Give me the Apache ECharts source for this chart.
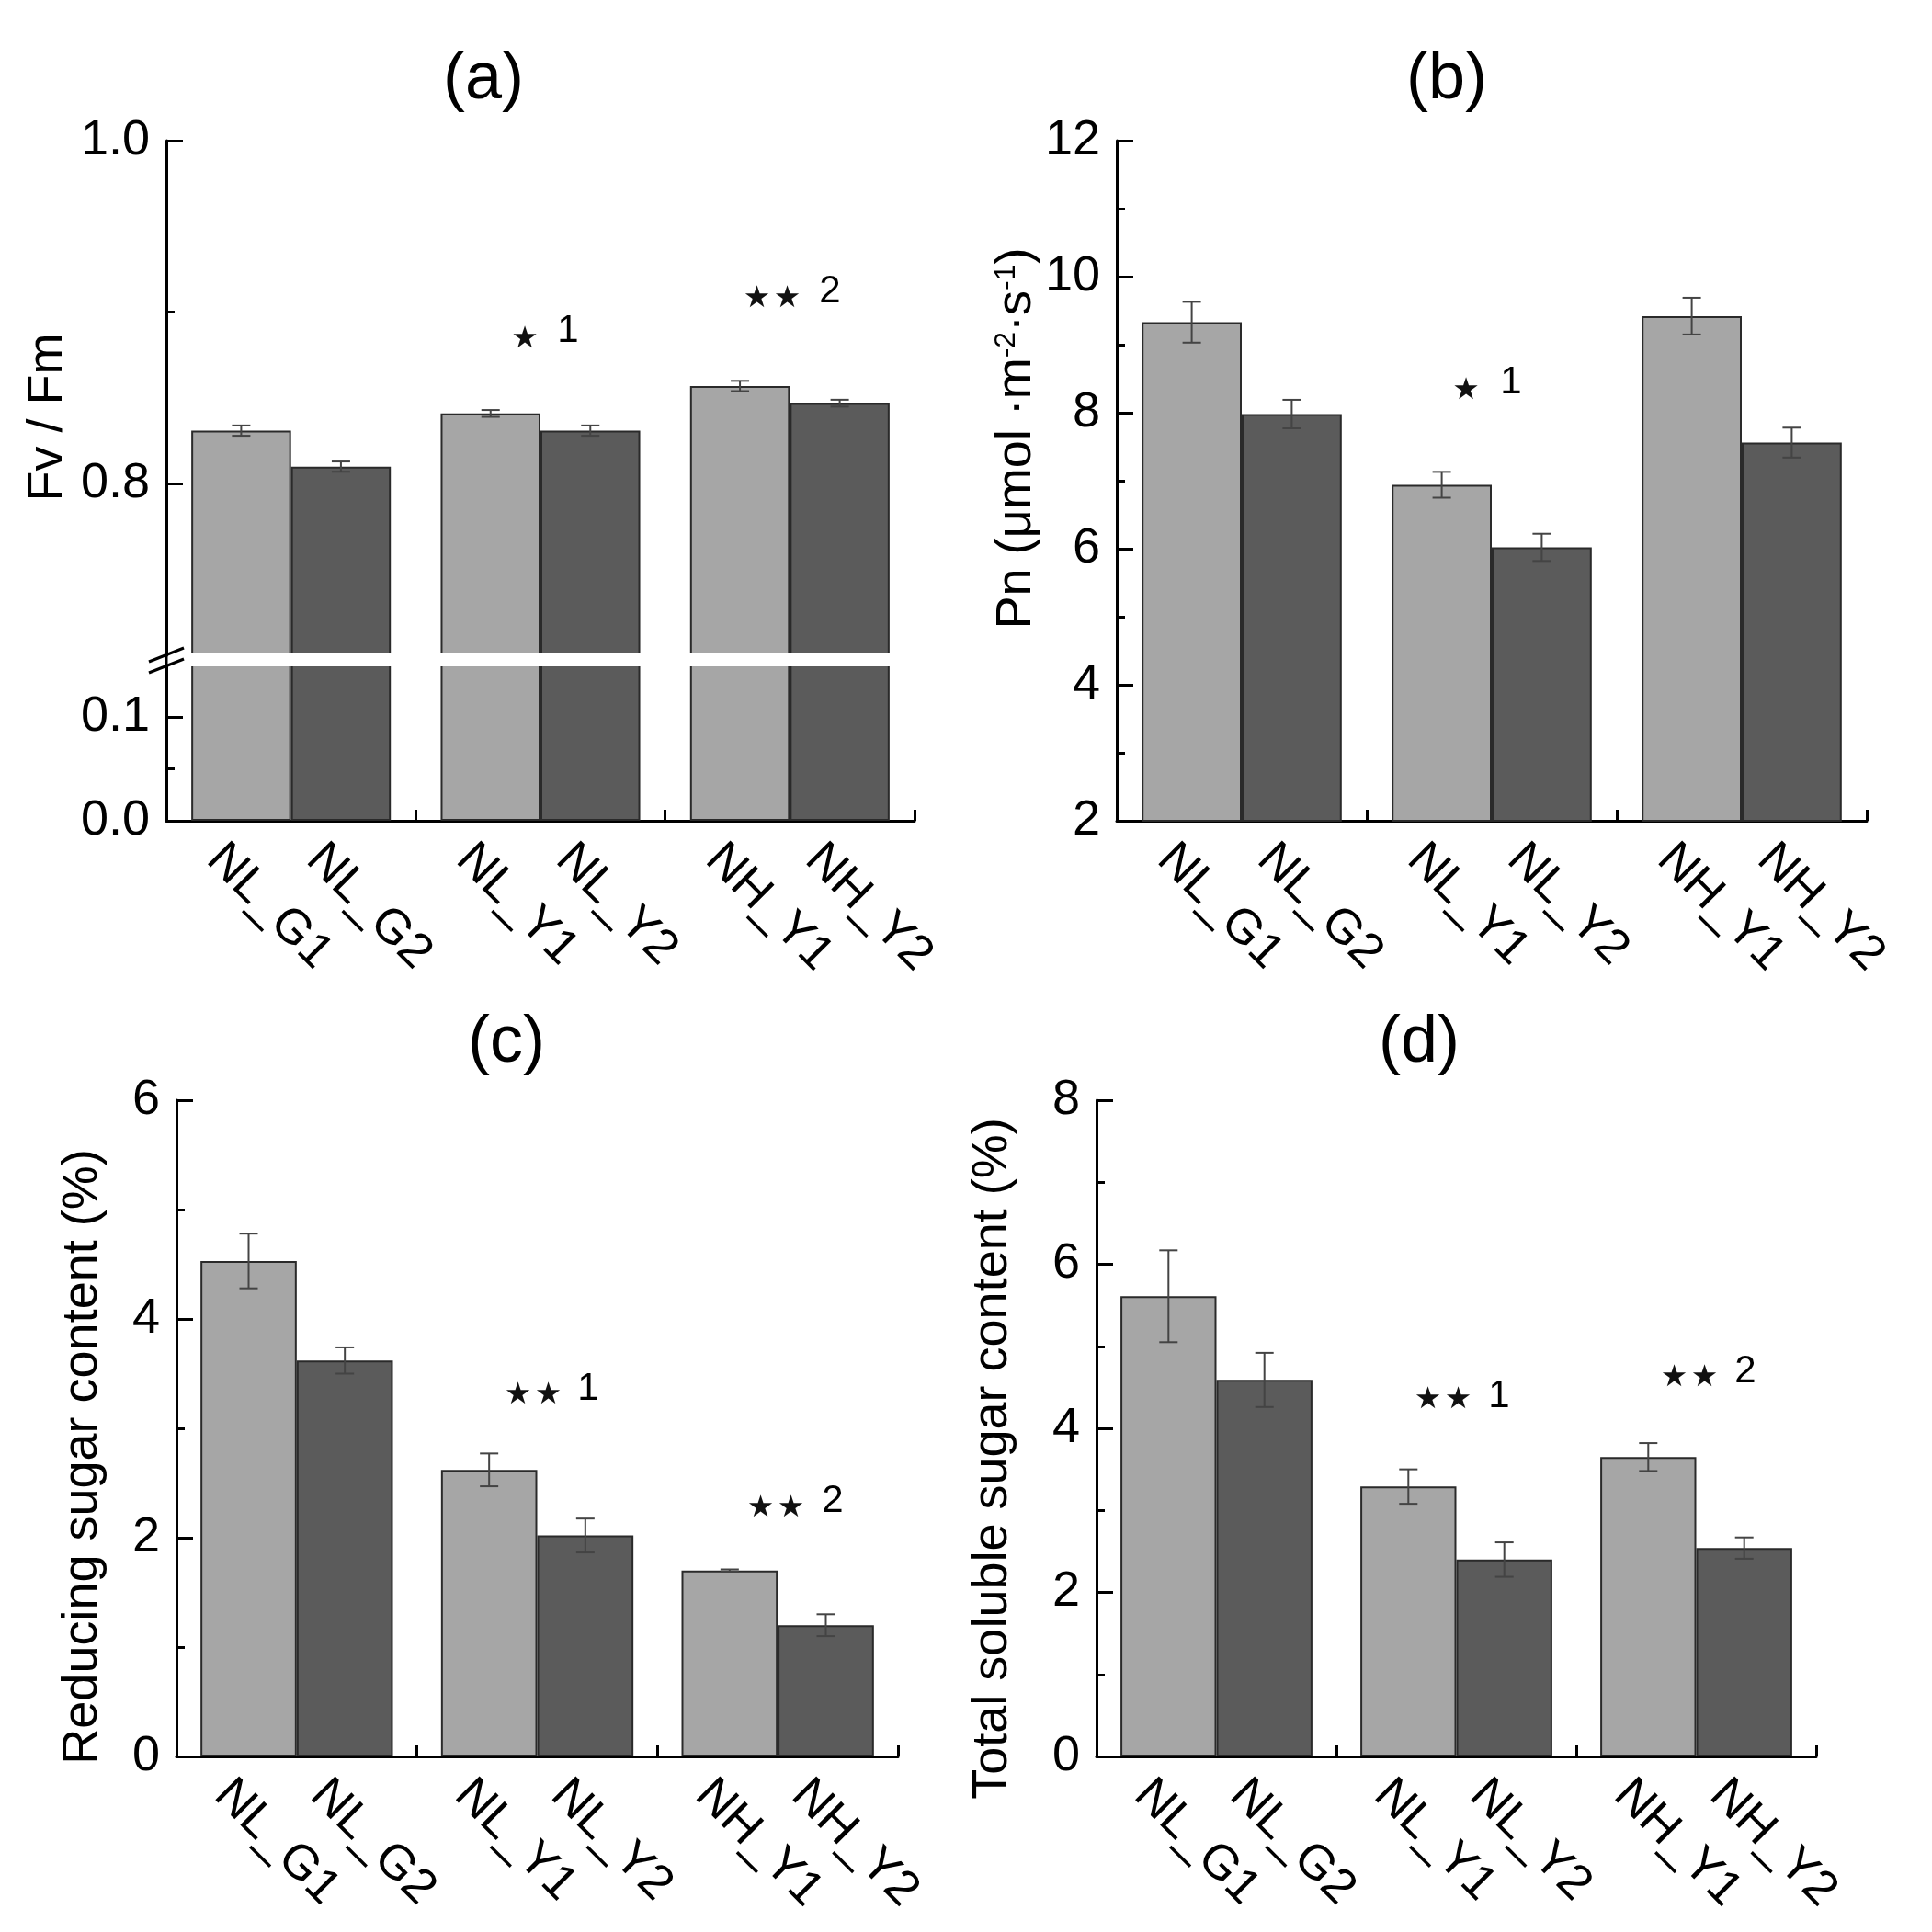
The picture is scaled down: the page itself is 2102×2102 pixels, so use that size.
<!DOCTYPE html>
<html>
<head>
<meta charset="utf-8">
<script src="https://cdn.jsdelivr.net/npm/echarts@6/dist/echarts.min.js"></script>
<style>
html,body{margin:0;padding:0;background:#fff;}
#main{width:2102px;height:2102px;}
</style>
</head>
<body>
<div id="main"></div>
<script>
// categories
var groups = ['NL_G', 'NL_Y', 'NH_Y'];
var names1 = ['NL_G1', 'NL_Y1', 'NH_Y1'];
var names2 = ['NL_G2', 'NL_Y2', 'NH_Y2'];

// (a) Fv/Fm
var fvfm1 = [0.831, 0.841, 0.857];
var fvfm1Err = [0.003, 0.002, 0.003];
var fvfm2 = [0.810, 0.831, 0.847];
var fvfm2Err = [0.003, 0.003, 0.002];
// (b) Pn
var pn1 = [9.33, 6.94, 9.42];
var pn1Err = [0.30, 0.19, 0.27];
var pn2 = [7.98, 6.02, 7.56];
var pn2Err = [0.21, 0.20, 0.22];
// (c) reducing sugar
var rs1 = [4.53, 2.62, 1.70];
var rs1Err = [0.25, 0.15, 0.01];
var rs2 = [3.62, 2.02, 1.20];
var rs2Err = [0.12, 0.155, 0.10];
// (d) total soluble sugar
var ts1 = [5.61, 3.29, 3.65];
var ts1Err = [0.56, 0.21, 0.17];
var ts2 = [4.59, 2.40, 2.54];
var ts2Err = [0.33, 0.21, 0.13];

// tick values of the broken axis in (a)
var aUpperTicks = [0.8, 1.0];
var aUpperMinor = [0.9];
var aLowerTicks = [0, 0.1];
var aLowerMinor = [0.05];

var FONT = '"Liberation Sans", Arial, sans-serif';
var chart = echarts.init(document.getElementById('main'));

function errData(v1, e1, v2, e2) {
    var d = [];
    for (var i = 0; i < v1.length; i++) {
        d.push([i, v1[i], e1[i], -1]);
        d.push([i, v2[i], e2[i], 1]);
    }
    return d;
}
function nameData(min) {
    var d = [];
    for (var i = 0; i < groups.length; i++) {
        d.push([i, min, -1]);
        d.push([i, min, 1]);
    }
    return d;
}
function renderErr(params, api) {
    var c = api.value(0), v = api.value(1), e = api.value(2), side = api.value(3);
    var band = api.size([1, 0])[0];
    var x = api.coord([c, v])[0] + side * band * 0.2;
    var y1 = api.coord([c, v + e])[1], y2 = api.coord([c, v - e])[1];
    var st = {stroke: '#444', lineWidth: 2};
    return {type: 'group', children: [
        {type: 'line', shape: {x1: x, y1: y1, x2: x, y2: y2}, style: st},
        {type: 'line', shape: {x1: x - 10, y1: y1, x2: x + 10, y2: y1}, style: st},
        {type: 'line', shape: {x1: x - 10, y1: y2, x2: x + 10, y2: y2}, style: st}
    ]};
}
function renderName(params, api) {
    var c = api.value(0), side = api.value(2);
    var band = api.size([1, 0])[0];
    var x = api.coord([c, api.value(1)])[0] + side * band * 0.2;
    var bottom = params.coordSys.y + params.coordSys.height;
    return {type: 'text', x: x - 29, y: bottom + 34, rotation: -Math.PI / 4,
        style: {text: side < 0 ? names1[c] : names2[c], fill: '#000', fontSize: 53,
            fontFamily: FONT, align: 'left', verticalAlign: 'middle'}};
}

var lineSt = {color: '#000', width: 3};
function catAxis(grid, show) {
    return {type: 'category', gridIndex: grid, data: groups, show: show, boundaryGap: true,
        axisLine: {show: true, onZero: false, lineStyle: lineSt},
        axisTick: {show: true, inside: true, interval: 0, alignWithLabel: false, length: 12, lineStyle: lineSt},
        axisLabel: {show: false}, splitLine: {show: false}};
}
function valAxis(grid, min, max, interval) {
    return {type: 'value', gridIndex: grid, position: 'left', min: min, max: max, interval: interval,
        axisLine: {show: true, onZero: false, lineStyle: lineSt},
        axisTick: {show: true, inside: true, length: 18, lineStyle: lineSt},
        minorTick: {show: true, splitNumber: 2, length: 9, lineStyle: lineSt},
        axisLabel: {show: true, color: '#000', fontSize: 54, fontFamily: FONT, margin: 18},
        splitLine: {show: false}, minorSplitLine: {show: false}};
}
function brokenAxis(grid, min, max, ticks) {
    return {type: 'value', gridIndex: grid, position: 'left', min: min, max: max,
        axisLine: {show: true, onZero: false, lineStyle: lineSt},
        axisTick: {show: true, inside: true, length: 18, customValues: ticks, lineStyle: lineSt},
        axisLabel: {show: true, color: '#000', fontSize: 54, fontFamily: FONT, margin: 18,
            customValues: ticks, formatter: function (v) { return v.toFixed(1); }},
        splitLine: {show: false}};
}
function minorAxis(grid, min, max, ticks) {
    return {type: 'value', gridIndex: grid, position: 'left', min: min, max: max,
        axisLine: {show: false},
        axisTick: {show: true, inside: true, length: 9, customValues: ticks, lineStyle: lineSt},
        axisLabel: {show: false}, splitLine: {show: false}};
}
function bars(x, y, v1, v2) {
    var common = {type: 'bar', xAxisIndex: x, yAxisIndex: y, barGap: '0%', barCategoryGap: '20%', clip: true};
    return [
        Object.assign({data: v1, itemStyle: {color: '#a6a6a6', borderColor: '#2a2a2a', borderWidth: 2}}, common),
        Object.assign({data: v2, itemStyle: {color: '#5b5b5b', borderColor: '#2a2a2a', borderWidth: 2}}, common)
    ];
}
function errSeries(x, y, d) {
    return {type: 'custom', xAxisIndex: x, yAxisIndex: y, renderItem: renderErr, data: d, encode: {x: 0, y: 1}, z: 3};
}
function nameSeries(x, y, min) {
    return {type: 'custom', xAxisIndex: x, yAxisIndex: y, renderItem: renderName, data: nameData(min), encode: {x: 0, y: 1}, z: 3};
}

function txt(s, x, y, size, rot) {
    return {type: 'text', x: x, y: y, rotation: rot || 0, z: 50,
        style: {text: s, fill: '#000', fontSize: size, fontFamily: FONT, align: 'center', verticalAlign: 'middle'}};
}
function stars(n, cx, cy) {
    var out = [];
    for (var i = 0; i < n; i++) {
        var x = cx + (i - (n - 1) / 2) * 33;
        out.push({type: 'text', x: x, y: cy, z: 50,
            style: {text: '\u2605', fill: '#111', fontSize: 33, fontFamily: '"DejaVu Sans"', align: 'center', verticalAlign: 'middle'}});
    }
    return out;
}

var graphics = [
    txt('(a)', 526, 87, 72), txt('(b)', 1574, 87, 72),
    txt('(c)', 551, 1135, 72), txt('(d)', 1544, 1135, 72),
    txt('Fv / Fm', 52, 454, 54, Math.PI / 2),
    {type: 'text', x: 1106, y: 477, rotation: Math.PI / 2, z: 50,
        style: {text: 'Pn (\u03bcmol \u00b7m{s|-2}\u00b7s{s|-1})', fill: '#000', fontSize: 54, fontFamily: FONT,
            align: 'center', verticalAlign: 'middle',
            rich: {s: {fontSize: 32, fontFamily: FONT, verticalAlign: 'top', fill: '#000'}}}},
    txt('Reducing sugar content (%)', 90, 1585, 54, Math.PI / 2),
    txt('Total soluble sugar content (%)', 1080, 1587, 54, Math.PI / 2),
    // axis break in (a)
    {type: 'rect', z: 40, shape: {x: 184, y: 711, width: 815, height: 14}, style: {fill: '#fff'}},
    {type: 'line', z: 45, shape: {x1: 181, y1: 708, x2: 181, y2: 728}, style: {stroke: '#000', lineWidth: 3}},
    {type: 'line', z: 45, shape: {x1: 162, y1: 720, x2: 200, y2: 705}, style: {stroke: '#000', lineWidth: 3}},
    {type: 'line', z: 45, shape: {x1: 162, y1: 732, x2: 200, y2: 717}, style: {stroke: '#000', lineWidth: 3}},
    // significance marks
    txt('1', 618, 360, 42), txt('2', 903, 317, 42),
    txt('1', 1644, 416, 42),
    txt('1', 640, 1511, 42), txt('2', 906, 1633, 42),
    txt('1', 1631, 1519, 42), txt('2', 1899, 1492, 42)
].concat(stars(1, 571, 369), stars(2, 840, 325), stars(1, 1595, 425),
    stars(2, 580, 1518), stars(2, 844, 1641), stars(2, 1570, 1523), stars(2, 1838, 1499));

var option = {
    animation: false,
    backgroundColor: '#fff',
    grid: [
        {left: 181, top: 153, width: 814, height: 560},
        {left: 181, top: 724, width: 814, height: 169},
        {left: 1215, top: 153, width: 816, height: 740},
        {left: 192, top: 1197, width: 785, height: 714},
        {left: 1193, top: 1197, width: 783, height: 714}
    ],
    xAxis: [catAxis(0, false), catAxis(1, true), catAxis(2, true), catAxis(3, true), catAxis(4, true)],
    yAxis: [
        brokenAxis(0, 0.7, 1.0, aUpperTicks),
        brokenAxis(1, 0, 0.15, aLowerTicks),
        valAxis(2, 2, 12, 2),
        valAxis(3, 0, 6, 2),
        valAxis(4, 0, 8, 2),
        minorAxis(0, 0.7, 1.0, aUpperMinor),
        minorAxis(1, 0, 0.15, aLowerMinor)
    ],
    series: [].concat(
        bars(0, 0, fvfm1, fvfm2),
        bars(1, 1, fvfm1, fvfm2),
        bars(2, 2, pn1, pn2),
        bars(3, 3, rs1, rs2),
        bars(4, 4, ts1, ts2),
        [
            errSeries(0, 0, errData(fvfm1, fvfm1Err, fvfm2, fvfm2Err)),
            errSeries(2, 2, errData(pn1, pn1Err, pn2, pn2Err)),
            errSeries(3, 3, errData(rs1, rs1Err, rs2, rs2Err)),
            errSeries(4, 4, errData(ts1, ts1Err, ts2, ts2Err)),
            nameSeries(1, 1, 0),
            nameSeries(2, 2, 2),
            nameSeries(3, 3, 0),
            nameSeries(4, 4, 0)
        ]
    ),
    graphic: graphics
};
chart.setOption(option);
</script>
</body>
</html>
